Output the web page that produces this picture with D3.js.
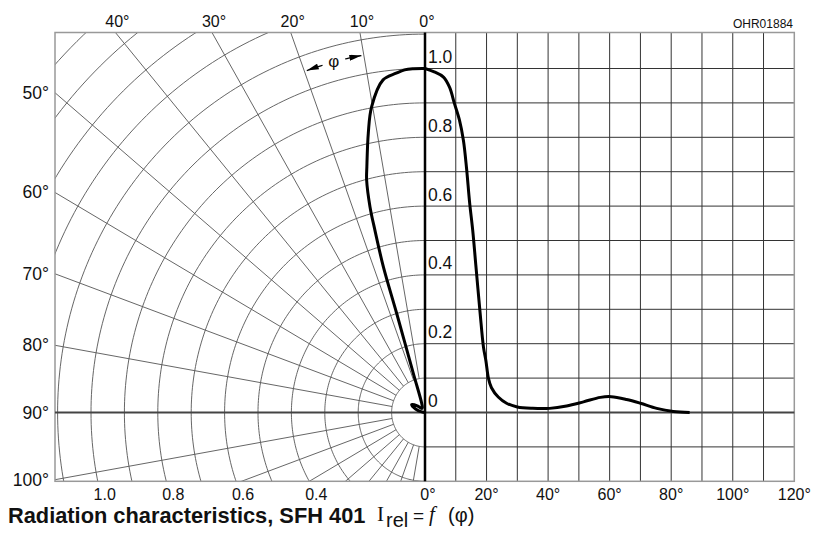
<!DOCTYPE html>
<html>
<head>
<meta charset="utf-8">
<script src="https://cdn.jsdelivr.net/npm/d3@7"></script>
<style>
  body { margin: 0; background: #fff; }
  svg { display: block; }
  text { font-family: "Liberation Sans", Arial, sans-serif; fill: #111; }
</style>
</head>
<body>
<div id="chart"></div>
<script>
// polar half: emission angle (deg) vs relative intensity
var polarAngles = [0, 2, 3.5, 5, 7.4, 10.2, 11.8, 13.7, 14.5, 15.4, 15.8, 16.4, 16.4, 17.1, 20, 30, 40, 50, 60, 70, 80, 86];
var polarValues = [1.0, 1.0, 0.998, 0.99, 0.975, 0.903, 0.83, 0.735, 0.698, 0.62, 0.551, 0.442, 0.3, 0.119, 0.03, 0.016, 0.015, 0.03, 0.046, 0.03, 0.01, 0];

// cartesian half: same characteristic plotted over angle
var lineAngles = [0, 3, 6, 8, 9.5, 11.2, 12.5, 13.5, 14.5, 15.5, 16.5, 17.9, 19, 19.8, 20.6, 21.6, 23.8, 26.5, 30, 35, 40.5, 46, 51.5, 57, 60.5, 65.5, 70, 75.3, 80.7, 86];
var lineValues = [1.0, 0.99, 0.975, 0.945, 0.9, 0.85, 0.79, 0.71, 0.61, 0.53, 0.43, 0.29, 0.19, 0.15, 0.1, 0.072, 0.045, 0.027, 0.016, 0.012, 0.012, 0.019, 0.031, 0.044, 0.046, 0.038, 0.027, 0.012, 0.003, 0.0];

// tick labels
var topAngleTicks = [0, 10, 20, 30, 40];
var sideAngleTicks = [50, 60, 70, 80, 90, 100];
var radiusTicks = [1.0, 0.8, 0.6, 0.4];
var intensityTicks = [0, 0.2, 0.4, 0.6, 0.8, 1.0];
var angleTicks = [0, 20, 40, 60, 80, 100, 120];

var width = 813, height = 533;
var ox = 425;

var y = d3.scaleLinear().domain([-0.2, 1.1]).range([481.3, 34.1]);
var x = d3.scaleLinear().domain([0, 120]).range([ox, 794.3]);
// horizontal radius scale of the polar half (grows to the left)
var px = d3.scaleLinear().domain([0, 1]).range([ox, ox - 334]);

var box = {left: 55, right: x(120), top: 32.5, bottom: y(-0.2)};

function polar(deg, r){
  var a = deg * Math.PI / 180;
  return [px(r * Math.sin(a)), y(r * Math.cos(a))];
}

var svg = d3.select('#chart')
  .append('svg')
  .attr('width', width)
  .attr('height', height);

var defs = svg.append('defs');
defs.append('clipPath').attr('id', 'polarClip')
  .append('rect')
  .attr('x', box.left).attr('y', box.top)
  .attr('width', ox - box.left).attr('height', box.bottom - box.top);

defs.append('marker')
  .attr('id', 'arrow')
  .attr('viewBox', '0 0 12 6')
  .attr('refX', 12).attr('refY', 3)
  .attr('markerWidth', 13).attr('markerHeight', 6)
  .attr('markerUnits', 'userSpaceOnUse')
  .attr('orient', 'auto')
  .append('path')
  .attr('d', 'M0,0 L12,3 L0,6 Z')
  .attr('fill', '#000');

var line = d3.line();

// polar grid
var polarGrid = svg.append('g').attr('clip-path', 'url(#polarClip)');

var circles = d3.range(1, 17).map(function(i){ return i / 10; });
polarGrid.selectAll('.ring')
  .data(circles)
  .enter()
  .append('path')
  .attr('class', 'ring')
  .attr('d', function(r){
    return line(d3.range(0, 181, 1).map(function(a){ return polar(a, r); }));
  })
  .attr('fill', 'none')
  .attr('stroke', '#555')
  .attr('stroke-width', 0.9);

var spokes = d3.range(10, 180, 10).filter(function(a){ return a !== 90; });
polarGrid.selectAll('.spoke')
  .data(spokes)
  .enter()
  .append('path')
  .attr('class', 'spoke')
  .attr('d', function(a){ return line([polar(a, 0.1), polar(a, 2.5)]); })
  .attr('stroke', '#555')
  .attr('stroke-width', 0.9);

// cartesian grid
var gridAngles = d3.range(10, 120, 10);
svg.selectAll('.vgrid')
  .data(gridAngles)
  .enter()
  .append('line')
  .attr('class', 'vgrid')
  .attr('x1', function(d){ return x(d); })
  .attr('x2', function(d){ return x(d); })
  .attr('y1', box.top).attr('y2', box.bottom)
  .attr('stroke', '#333')
  .attr('stroke-width', 1);

var gridLevels = d3.range(-1, 11).filter(function(i){ return i !== 0; }).map(function(i){ return i / 10; });
svg.selectAll('.hgrid')
  .data(gridLevels)
  .enter()
  .append('line')
  .attr('class', 'hgrid')
  .attr('x1', ox).attr('x2', box.right)
  .attr('y1', function(d){ return y(d); })
  .attr('y2', function(d){ return y(d); })
  .attr('stroke', '#333')
  .attr('stroke-width', 1);

// frame
svg.append('rect')
  .attr('x', box.left).attr('y', box.top)
  .attr('width', box.right - box.left)
  .attr('height', box.bottom - box.top)
  .attr('fill', 'none')
  .attr('stroke', '#999')
  .attr('stroke-width', 1.5);

// 90 deg / zero line and 0 deg axis
svg.append('line')
  .attr('x1', box.left).attr('x2', box.right)
  .attr('y1', y(0)).attr('y2', y(0))
  .attr('stroke', '#444')
  .attr('stroke-width', 2);

svg.append('line')
  .attr('x1', ox).attr('x2', ox)
  .attr('y1', box.top).attr('y2', box.bottom)
  .attr('stroke', '#000')
  .attr('stroke-width', 2.5);

// phi marker between the 10 and 20 deg spokes
var phiR = 1.055;
svg.append('path')
  .attr('d', line(d3.range(16.9, 19.85, 0.3).map(function(a){ return polar(a, phiR); })))
  .attr('fill', 'none').attr('stroke', '#000').attr('stroke-width', 1.2)
  .attr('marker-end', 'url(#arrow)');
svg.append('path')
  .attr('d', line(d3.range(13.1, 10.15, -0.3).map(function(a){ return polar(a, phiR); })))
  .attr('fill', 'none').attr('stroke', '#000').attr('stroke-width', 1.2)
  .attr('marker-end', 'url(#arrow)');
var phiPos = polar(15, phiR);
svg.append('text')
  .attr('x', phiPos[0]).attr('y', phiPos[1] + 5)
  .attr('text-anchor', 'middle')
  .style('font-size', '17px')
  .text('φ');

// curves
var curve = d3.line().curve(d3.curveCatmullRom.alpha(0.5));

svg.append('path')
  .datum(polarAngles.map(function(a, i){ return polar(a, polarValues[i]); }))
  .attr('d', curve)
  .attr('fill', 'none')
  .attr('stroke', '#000')
  .attr('stroke-width', 3)
  .attr('stroke-linejoin', 'round');

svg.append('path')
  .datum(lineAngles.map(function(a, i){ return [x(a), y(lineValues[i])]; }))
  .attr('d', curve)
  .attr('fill', 'none')
  .attr('stroke', '#000')
  .attr('stroke-width', 3)
  .attr('stroke-linejoin', 'round');

// top angle labels, where the spokes meet the top edge
var topR = y.invert(box.top);
svg.selectAll('.topLabel')
  .data(topAngleTicks)
  .enter()
  .append('text')
  .attr('class', 'topLabel')
  .attr('x', function(a){
    var t = a * Math.PI / 180;
    return px(topR * Math.tan(t)) + 2;
  })
  .attr('y', 26.7)
  .attr('text-anchor', 'middle')
  .style('font-size', '16px')
  .text(function(a){ return a + '°'; });

// left angle labels, where the spokes meet the left edge
var leftR = px.invert(box.left);
svg.selectAll('.sideLabel')
  .data(sideAngleTicks)
  .enter()
  .append('text')
  .attr('class', 'sideLabel')
  .attr('x', 49)
  .attr('y', function(a){
    var t = a * Math.PI / 180;
    return y(leftR / Math.tan(t)) + 6;
  })
  .attr('text-anchor', 'end')
  .style('font-size', '17.5px')
  .text(function(a){ return a + '°'; });

// radius labels along the bottom edge
var bottomV = y.invert(box.bottom);
svg.selectAll('.radLabel')
  .data(radiusTicks)
  .enter()
  .append('text')
  .attr('class', 'radLabel')
  .attr('x', function(r){ return px(Math.sqrt(r * r - bottomV * bottomV)) + 7; })
  .attr('y', 499.5)
  .attr('text-anchor', 'middle')
  .style('font-size', '16px')
  .text(function(r){ return r.toFixed(1); });

// angle labels of the cartesian half
svg.selectAll('.angLabel')
  .data(angleTicks)
  .enter()
  .append('text')
  .attr('class', 'angLabel')
  .attr('x', function(a){ return x(a) + (a === 0 ? 3 : 0); })
  .attr('y', 499.5)
  .attr('text-anchor', 'middle')
  .style('font-size', '16px')
  .text(function(a){ return a + '°'; });

// intensity labels next to the 0 deg axis
svg.selectAll('.intLabel')
  .data(intensityTicks)
  .enter()
  .append('text')
  .attr('class', 'intLabel')
  .attr('x', 428)
  .attr('y', function(v){ return y(v) - 5.5; })
  .style('font-size', '17.5px')
  .text(function(v){ return v === 0 ? '0' : v.toFixed(1); });

svg.append('text')
  .attr('x', 793).attr('y', 28)
  .attr('text-anchor', 'end')
  .style('font-size', '12px')
  .text('OHR01884');

// caption
svg.append('text')
  .attr('x', 8).attr('y', 522.5)
  .style('font-size', '21.8px')
  .style('font-weight', 'bold')
  .text('Radiation characteristics, SFH 401');

svg.append('text')
  .attr('x', 377).attr('y', 521)
  .style('font-family', '"Liberation Serif", "Times New Roman", serif')
  .style('font-size', '21px')
  .text('I');
svg.append('text')
  .attr('x', 386).attr('y', 527)
  .style('font-size', '20px')
  .text('rel');
svg.append('text')
  .attr('x', 413).attr('y', 522)
  .style('font-size', '19px')
  .text('=');
svg.append('text')
  .attr('x', 429).attr('y', 521)
  .style('font-family', '"Liberation Serif", "Times New Roman", serif')
  .style('font-style', 'italic')
  .style('font-size', '21px')
  .text('f');
svg.append('text')
  .attr('x', 448).attr('y', 522)
  .style('font-size', '20px')
  .text('(φ)');
</script>
</body>
</html>
